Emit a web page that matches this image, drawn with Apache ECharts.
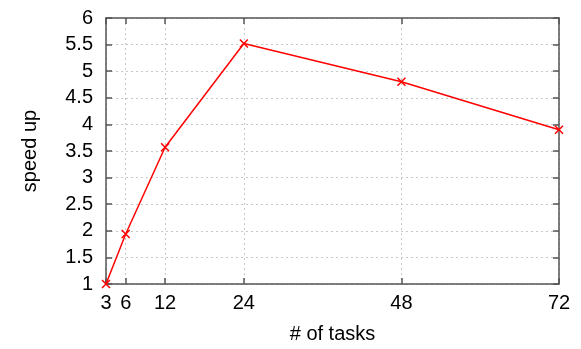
<!DOCTYPE html>
<html><head><meta charset="utf-8">
<script src="https://cdn.jsdelivr.net/npm/echarts@6/dist/echarts.min.js"></script>
<style>html,body{margin:0;padding:0;background:#fff}#c{width:581px;height:349px}</style>
</head><body><div id="c"></div>
<script>
const tasks = [3, 6, 12, 24, 48, 72];
const speedup = [1.0, 1.94, 3.57, 5.52, 4.80, 3.90];
const xTicks = [3, 6, 12, 24, 48, 72];
const yTicks = [1, 1.5, 2, 2.5, 3, 3.5, 4, 4.5, 5, 5.5, 6];

const FONT = 'Liberation Sans, Arial, sans-serif';
const FS = 20;
const axisCol = '#555';
const chart = echarts.init(document.getElementById('c'), null, {renderer: 'canvas'});
const xCommon = {
  type: 'value', min: 3, max: 72,
  axisLine: {show: true, onZero: false, lineStyle: {color: axisCol, width: 1.5}},
  axisTick: {show: true, inside: true, length: 6, lineStyle: {color: axisCol, width: 1.5}, customValues: xTicks},
  splitLine: {show: false}
};
const yCommon = {
  type: 'value', min: 1, max: 6, interval: 0.5,
  axisLine: {show: true, onZero: false, lineStyle: {color: axisCol, width: 1.5}},
  axisTick: {show: true, inside: true, length: 6, lineStyle: {color: axisCol, width: 1.5}},
  splitLine: {show: false}
};
chart.setOption({
  animation: false,
  grid: {left: 106, top: 18, right: 22, bottom: 64, containLabel: false},
  xAxis: [
    Object.assign({}, xCommon, {
      position: 'bottom',
      name: '# of tasks', nameLocation: 'middle', nameGap: 40,
      nameTextStyle: {fontFamily: FONT, fontSize: FS, color: '#000'},
      axisLabel: {show: true, customValues: xTicks, fontFamily: FONT, fontSize: FS, color: '#000', margin: 9},
      splitLine: {show: true, customValues: xTicks, lineStyle: {color: '#c8c8c8', type: [2, 3], width: 1}}
    }),
    Object.assign({}, xCommon, {position: 'top', axisLabel: {show: false}})
  ],
  yAxis: [
    Object.assign({}, yCommon, {
      position: 'left',
      name: 'speed up', nameLocation: 'middle', nameGap: 66, nameRotate: 90,
      nameTextStyle: {fontFamily: FONT, fontSize: FS, color: '#000'},
      axisLabel: {show: true, fontFamily: FONT, fontSize: FS, color: '#000', margin: 13,
        formatter: v => String(v)},
      splitLine: {show: true, lineStyle: {color: '#c8c8c8', type: [2, 3], width: 1}}
    }),
    Object.assign({}, yCommon, {position: 'right', axisLabel: {show: false}})
  ],
  series: [{
    type: 'line',
    xAxisIndex: 0, yAxisIndex: 0,
    data: tasks.map((t, i) => [t, speedup[i]]),
    lineStyle: {color: '#ff0000', width: 1.5},
    symbol: 'path://M0,0L10,10M10,0L0,10',
    symbolSize: 8,
    itemStyle: {color: 'none', borderColor: '#ff0000', borderWidth: 1.5},
    showSymbol: true,
    clip: false,
    z: 5
  }]
});
</script></body></html>
